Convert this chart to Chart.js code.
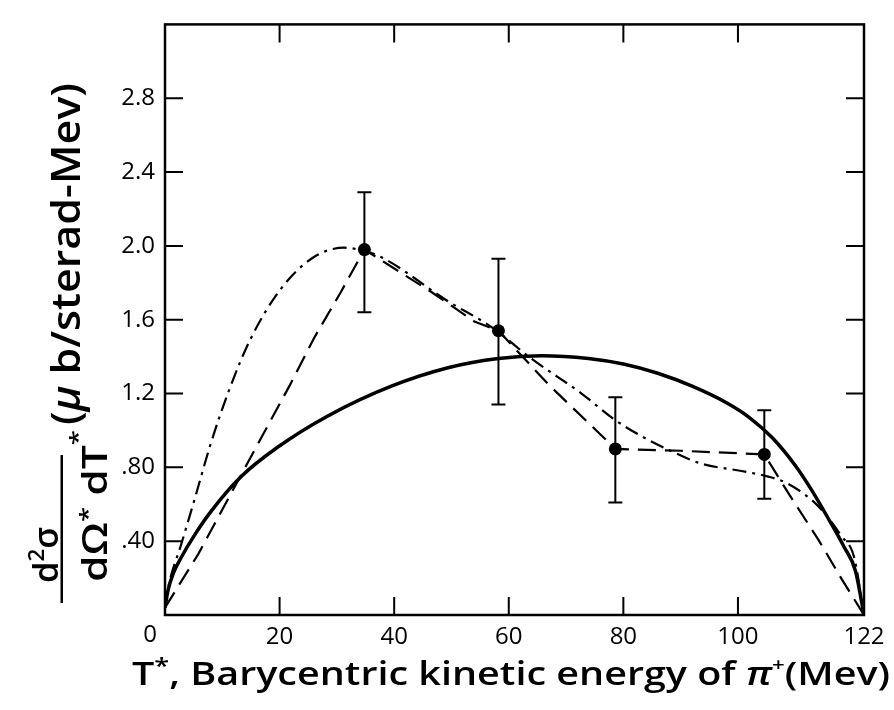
<!DOCTYPE html>
<html lang="en">
<head>
  <meta charset="utf-8" />
  <title>Barycentric kinetic energy of pi+</title>
  <script src="https://cdn.jsdelivr.net/npm/chart.js@4.4.4/dist/chart.umd.min.js"></script>
  <style>
    body { margin: 0; background: #fff; }
    #wrap { width: 894px; height: 710px; }
  </style>
</head>
<body>
  <div id="wrap"><canvas id="chart" width="894" height="710"></canvas></div>
  <script>
    // measured points with error bars
    const pointT = [34.8, 58.2, 78.6, 104.6];
    const pointY = [1.98, 1.54, 0.90, 0.87];
    const errLow = [1.64, 1.14, 0.61, 0.63];
    const errHigh = [2.29, 1.93, 1.18, 1.11];

    // solid curve
    const solidT = [0, 0.5, 1.5, 2.8, 5.1, 8, 13.3, 19.7, 28.5, 39.5, 49.4, 58.2, 65.7, 73.9, 80, 86, 92, 98, 102, 106, 110, 113, 116, 118.5, 120.5, 122];
    const solidY = [0.04, 0.13, 0.23, 0.31, 0.43, 0.56, 0.75, 0.91, 1.08, 1.24, 1.34, 1.39, 1.405, 1.39, 1.36, 1.31, 1.24, 1.15, 1.07, 0.96, 0.81, 0.67, 0.51, 0.37, 0.24, 0];

    // dashed curve (through the points)
    const dashT = [0, 5.8, 11.9, 16.8, 21.7, 26, 30.7, 34.8, 46.5, 54, 58.2, 66.9, 78.6, 90, 104.6, 108.8, 114, 118, 122];
    const dashY = [0.04, 0.33, 0.68, 0.96, 1.24, 1.5, 1.75, 1.98, 1.75, 1.59, 1.54, 1.25, 0.90, 0.89, 0.87, 0.66, 0.41, 0.2, 0];

    // dash-dot curve
    const dotT = [0, 0.7, 2.8, 5.1, 8, 11.2, 15, 20.3, 26, 31.3, 35, 37.7, 49.4, 57, 63.9, 72.7, 78.4, 83.1, 88.9, 93.6, 100.6, 105.3, 108.8, 114, 118, 120.3, 122];
    const dotY = [0.05, 0.17, 0.38, 0.62, 0.93, 1.22, 1.50, 1.77, 1.94, 1.99, 1.97, 1.94, 1.70, 1.56, 1.39, 1.20, 1.06, 0.97, 0.88, 0.82, 0.78, 0.75, 0.71, 0.59, 0.43, 0.31, 0];

    const xTicks = [0, 20, 40, 60, 80, 100, 122];
    const yTicks = [0.4, 0.8, 1.2, 1.6, 2.0, 2.4, 2.8];
    const yTickLabels = ['.40', '.80', '1.2', '1.6', '2.0', '2.4', '2.8'];

    const FAMILY = '"Open Sans", "DejaVu Sans", sans-serif';
    const TICK_FONT = '400 24px ' + FAMILY;

    const pts = (xs, ys) => xs.map((x, i) => ({ x: x, y: ys[i] }));

    // draws a row of text pieces, squeezed/stretched to a target length
    function drawRuns(ctx, runs, x0, y0, angle, target) {
      let total = 0;
      runs.forEach(r => {
        ctx.font = r.font;
        r.w = ctx.measureText(r.text).width;
        total += r.w;
      });
      const k = target ? target / total : 1;
      ctx.save();
      ctx.translate(x0, y0);
      ctx.rotate(angle);
      ctx.scale(k, 1);
      ctx.fillStyle = '#000';
      ctx.textAlign = 'left';
      ctx.textBaseline = 'alphabetic';
      let cur = 0;
      runs.forEach(r => {
        ctx.font = r.font;
        ctx.fillText(r.text, cur, -(r.raise || 0));
        cur += r.w;
      });
      ctx.restore();
    }

    const errorBars = {
      id: 'errorBars',
      afterDatasetsDraw(chart) {
        const { ctx, scales: { x, y } } = chart;
        ctx.save();
        ctx.strokeStyle = '#000';
        ctx.lineWidth = 2;
        pointT.forEach((t, i) => {
          const px = x.getPixelForValue(t);
          const top = y.getPixelForValue(errHigh[i]);
          const bot = y.getPixelForValue(errLow[i]);
          ctx.beginPath();
          ctx.moveTo(px, top); ctx.lineTo(px, bot);
          ctx.moveTo(px - 7, top); ctx.lineTo(px + 7, top);
          ctx.moveTo(px - 7, bot); ctx.lineTo(px + 7, bot);
          ctx.stroke();
        });
        ctx.restore();
      }
    };

    const frame = {
      id: 'frame',
      afterDraw(chart) {
        const { ctx, chartArea: a, scales: { x, y } } = chart;
        ctx.save();
        ctx.strokeStyle = '#000';
        ctx.lineWidth = 2.5;
        ctx.strokeRect(a.left, a.top, a.right - a.left, a.bottom - a.top);
        ctx.lineWidth = 2;
        ctx.beginPath();
        xTicks.slice(1, -1).forEach(v => {
          const px = x.getPixelForValue(v);
          ctx.moveTo(px, a.bottom); ctx.lineTo(px, a.bottom - 18);
          ctx.moveTo(px, a.top); ctx.lineTo(px, a.top + 18);
        });
        yTicks.forEach(v => {
          const py = y.getPixelForValue(v);
          ctx.moveTo(a.left, py); ctx.lineTo(a.left + 18, py);
          ctx.moveTo(a.right, py); ctx.lineTo(a.right - 18, py);
        });
        ctx.stroke();
        // shared origin label at the corner
        ctx.fillStyle = '#000';
        ctx.font = TICK_FONT;
        ctx.textAlign = 'center';
        ctx.textBaseline = 'middle';
        ctx.fillText('0', x.getPixelForValue(0) - 15, a.bottom + 20);
        ctx.restore();
      }
    };

    const titles = {
      id: 'titles',
      afterDraw(chart) {
        const ctx = chart.ctx;
        const B = s => '600 ' + s + 'px ' + FAMILY;
        const I = s => 'italic 600 ' + s + 'px ' + FAMILY;

        // x axis title
        drawRuns(ctx, [
          { text: 'T', font: B(32) },
          { text: '*', font: B(22), raise: 12 },
          { text: ', Barycentric kinetic energy of ', font: B(32) },
          { text: 'π', font: I(32) },
          { text: '+', font: B(18), raise: 14 },
          { text: '(Mev)', font: B(32) }
        ], 132, 685, 0, 758);

        // y axis title: numerator
        drawRuns(ctx, [
          { text: 'd', font: B(34) },
          { text: '2', font: B(22), raise: 14 },
          { text: 'σ', font: B(34) }
        ], 58, 583, -Math.PI / 2, 56);

        // fraction bar
        ctx.save();
        ctx.fillStyle = '#000';
        ctx.fillRect(60.5, 455, 2.5, 148);
        ctx.restore();

        // denominator
        drawRuns(ctx, [
          { text: 'dΩ', font: B(34) },
          { text: '*', font: B(22), raise: 12 },
          { text: ' dT', font: B(34) },
          { text: '*', font: B(22), raise: 22 }
        ], 107, 582, -Math.PI / 2, 152);

        // units
        drawRuns(ctx, [
          { text: '(', font: B(40) },
          { text: 'μ', font: I(40) },
          { text: ' b/sterad-Mev)', font: B(40) }
        ], 80, 425, -Math.PI / 2, 342);
      }
    };

    new Chart(document.getElementById('chart'), {
      type: 'line',
      data: {
        datasets: [
          {
            label: 'data',
            data: pts(pointT, pointY),
            showLine: false,
            pointRadius: 6.5,
            pointBackgroundColor: '#000',
            pointBorderWidth: 0
          },
          {
            label: 'solid',
            data: pts(solidT, solidY),
            borderColor: '#000',
            borderWidth: 3.5,
            pointRadius: 0,
            cubicInterpolationMode: 'monotone'
          },
          {
            label: 'dashed',
            data: pts(dashT, dashY),
            borderColor: '#000',
            borderWidth: 2.2,
            borderDash: [18, 9],
            pointRadius: 0,
            tension: 0
          },
          {
            label: 'dash-dot',
            data: pts(dotT, dotY),
            borderColor: '#000',
            borderWidth: 2.2,
            borderDash: [14, 6, 3, 6],
            pointRadius: 0,
            cubicInterpolationMode: 'monotone'
          }
        ]
      },
      options: {
        responsive: false,
        animation: false,
        layout: { padding: { left: 0, right: 30, top: 9, bottom: 0 } },
        plugins: { legend: { display: false }, tooltip: { enabled: false } },
        scales: {
          x: {
            type: 'linear',
            min: 0,
            max: 122,
            afterBuildTicks: s => { s.ticks = xTicks.map(v => ({ value: v })); },
            afterFit: s => { s.height = 95; },
            grid: { display: false, drawTicks: false },
            border: { display: false },
            ticks: {
              callback: v => (v === 0 ? '' : String(v)),
              font: { family: FAMILY, size: 24 },
              color: '#000',
              padding: 8,
              maxRotation: 0,
              autoSkip: false
            }
          },
          y: {
            min: 0,
            max: 3.2,
            afterBuildTicks: s => { s.ticks = yTicks.map(v => ({ value: v })); },
            afterFit: s => { s.width = 165; },
            grid: { display: false, drawTicks: false },
            border: { display: false },
            ticks: {
              callback: (v, i) => yTickLabels[i],
              font: { family: FAMILY, size: 24 },
              color: '#000',
              padding: 10,
              autoSkip: false
            }
          }
        }
      },
      plugins: [errorBars, frame, titles]
    });
  </script>
</body>
</html>
